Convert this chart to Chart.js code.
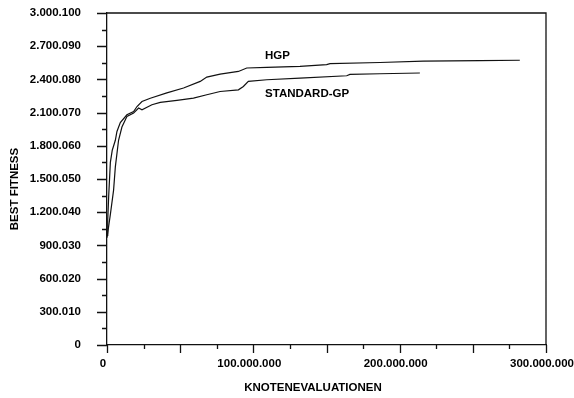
<!DOCTYPE html>
<html>
<head>
<meta charset="utf-8">
<script src="https://cdn.jsdelivr.net/npm/chart.js@4.4.0/dist/chart.umd.min.js"></script>
<style>
  html, body { margin: 0; padding: 0; background: #fff; }
  #wrap { width: 574px; height: 398px; }
</style>
</head>
<body>
<div id="wrap"><canvas id="chart" width="574" height="398"></canvas></div>
<script>
// Best fitness over node evaluations, two GP variants
const hgpEvals = [0, 500000, 1200000, 2300000, 3600000, 5700000, 6800000, 9100000, 13600000,
  18200000, 20500000, 23900000, 29600000, 40900000, 52300000, 63700000, 68200000, 77300000,
  89800000, 95500000, 109200000, 131900000, 150100000, 152400000, 186500000, 216100000,
  254800000, 282100000];
const hgpFitness = [990000, 1130000, 1360000, 1650000, 1760000, 1850000, 1930000, 2010000, 2080000,
  2110000, 2155000, 2200000, 2230000, 2278000, 2322000, 2382000, 2421000, 2448000,
  2472000, 2503000, 2508000, 2517000, 2533000, 2542000, 2553000, 2566000,
  2569000, 2573000];

const stdEvals = [0, 1100000, 2300000, 4500000, 5700000, 7900000, 10200000, 13600000, 18200000,
  21600000, 23900000, 30700000, 36400000, 47800000, 59100000, 68200000, 77300000, 89800000,
  93200000, 96600000, 109200000, 131900000, 163800000, 166000000, 186500000, 213800000];
const stdFitness = [970000, 1070000, 1180000, 1400000, 1610000, 1850000, 1970000, 2065000, 2096000,
  2141000, 2126000, 2171000, 2192000, 2210000, 2231000, 2261000, 2291000, 2306000,
  2336000, 2382000, 2397000, 2412000, 2433000, 2445000, 2451000, 2458000];

const seriesNames = ['HGP', 'STANDARD-GP'];
// where each series name is written, in data units
const nameAnchors = [[108000000, 2614000], [108000000, 2270000]];

const xMax = 300000000, xStep = 100000000, xMinorStep = 25000000, xMajorStep = 50000000;
const yMax = 3000100, yStep = 300010, yMinorStep = 150005;
const xTitle = 'KNOTENEVALUATIONEN';
const yTitle = 'BEST FITNESS';

const FAMILY = "'Liberation Sans', Arial, sans-serif";
const FONT = 'bold 11.5px ' + FAMILY;
const INK = '#111';

function dotted(v) {
  return Math.round(v).toString().replace(/\B(?=(\d{3})+(?!\d))/g, '.');
}

function toPoints(xs, ys) {
  return xs.map((x, i) => ({ x: x, y: ys[i] }));
}

// tick marks, frame, axis titles and series names
const decorations = {
  id: 'decorations',
  afterDraw(chart) {
    const ctx = chart.ctx;
    const { left, right, top, bottom } = chart.chartArea;
    const xs = chart.scales.x, ys = chart.scales.y;
    ctx.save();
    ctx.strokeStyle = INK;
    ctx.lineWidth = 1.3;
    ctx.beginPath();
    // top and right edges of the frame
    ctx.moveTo(left, top);
    ctx.lineTo(right, top);
    ctx.lineTo(right, bottom);
    for (let v = 0; v <= xMax + 1; v += xMinorStep) {
      const px = Math.round(xs.getPixelForValue(v)) + 0.5;
      const len = v % xMajorStep === 0 ? 8 : 4;
      ctx.moveTo(px, bottom);
      ctx.lineTo(px, bottom + len);
    }
    for (let i = 0; i <= 20; i++) {
      const py = Math.round(ys.getPixelForValue(i * yMinorStep)) + 0.5;
      const len = i % 2 === 0 ? 10 : 5;
      ctx.moveTo(left, py);
      ctx.lineTo(left - len, py);
    }
    ctx.stroke();

    ctx.fillStyle = '#000';
    ctx.font = FONT;
    ctx.textBaseline = 'middle';
    ctx.textAlign = 'center';
    ctx.fillText(xTitle, 313, 388);
    ctx.save();
    ctx.translate(15, 189);
    ctx.rotate(-Math.PI / 2);
    ctx.fillText(yTitle, 0, 0);
    ctx.restore();

    ctx.textAlign = 'left';
    seriesNames.forEach((name, i) => {
      const [ax, ay] = nameAnchors[i];
      ctx.fillText(name, xs.getPixelForValue(ax), ys.getPixelForValue(ay));
    });
    ctx.restore();
  }
};

new Chart(document.getElementById('chart'), {
  type: 'line',
  data: {
    datasets: [
      {
        label: seriesNames[0],
        data: toPoints(hgpEvals, hgpFitness),
        borderColor: INK,
        borderWidth: 1.2,
        pointRadius: 0,
        tension: 0,
        fill: false
      },
      {
        label: seriesNames[1],
        data: toPoints(stdEvals, stdFitness),
        borderColor: INK,
        borderWidth: 1.2,
        pointRadius: 0,
        tension: 0,
        fill: false
      }
    ]
  },
  options: {
    responsive: false,
    animation: false,
    layout: { padding: { left: 0, top: 13, right: 28, bottom: 0 } },
    plugins: {
      legend: { display: false },
      tooltip: { enabled: false }
    },
    scales: {
      x: {
        type: 'linear',
        min: 0,
        max: xMax,
        grid: { display: false, drawTicks: false },
        border: { display: true, color: INK, width: 1.3 },
        ticks: {
          stepSize: xStep,
          maxRotation: 0,
          autoSkip: false,
          padding: 12,
          labelOffset: -4,
          color: '#000',
          font: { family: FAMILY, size: 11.5, weight: 'bold' },
          callback: (v) => dotted(v)
        },
        afterFit(scale) {
          scale.height = 53;
          scale.paddingLeft = 0;
          scale.paddingRight = 0;
        }
      },
      y: {
        type: 'linear',
        min: 0,
        max: yMax,
        grid: { display: false, drawTicks: false },
        border: { display: true, color: INK, width: 1.3 },
        ticks: {
          stepSize: yStep,
          autoSkip: false,
          padding: 26,
          color: '#000',
          font: { family: FAMILY, size: 11.5, weight: 'bold' },
          callback: (v) => dotted(v)
        },
        afterFit(scale) {
          scale.width = 107;
          scale.paddingTop = 0;
          scale.paddingBottom = 0;
        }
      }
    }
  },
  plugins: [decorations]
});
</script>
</body>
</html>
